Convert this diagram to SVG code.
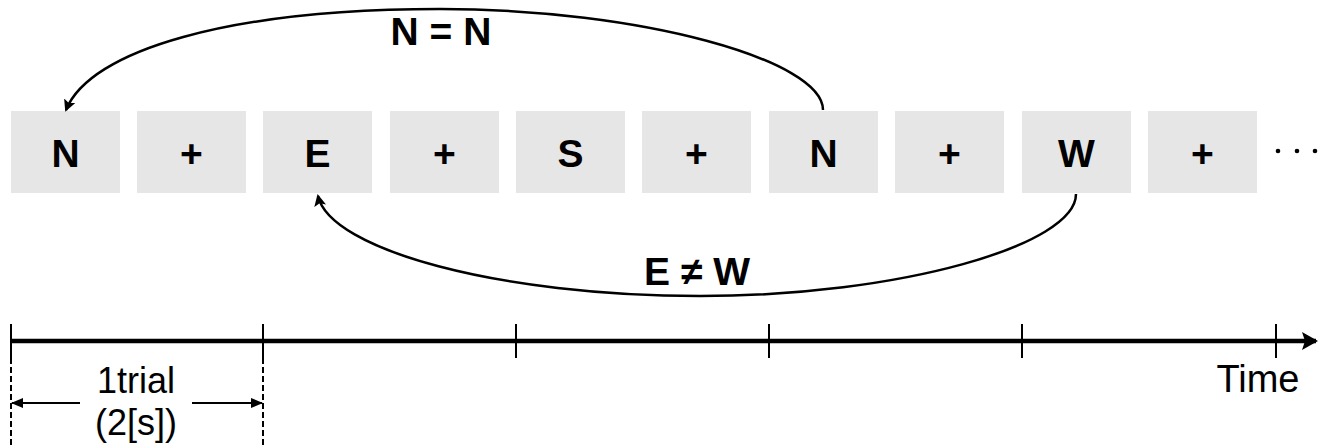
<svg xmlns="http://www.w3.org/2000/svg" width="1336" height="446" viewBox="0 0 1336 446">
<style>
.box{fill:#e6e6e6}
.bl{font-family:"Liberation Sans",Arial,sans-serif;font-weight:bold;font-size:39px;fill:#000;text-anchor:middle}
.rl{font-family:"Liberation Sans",Arial,sans-serif;font-size:36px;fill:#000;text-anchor:middle}
.curve{fill:none;stroke:#000;stroke-width:2.5}
.tick{stroke:#000;stroke-width:2}
.dash{stroke:#000;stroke-width:2;stroke-dasharray:6 3}
</style>
<defs>
<marker id="ah" markerWidth="12" markerHeight="12" refX="10" refY="6" orient="auto" markerUnits="userSpaceOnUse"><path d="M0,0 L12,6 L0,12 L2.5,6 Z" fill="#000"/></marker>
<marker id="ahs" markerWidth="12" markerHeight="10" refX="11" refY="5" orient="auto" markerUnits="userSpaceOnUse"><path d="M0,0 L12,5 L0,10 Z" fill="#000"/></marker>
<marker id="ahb" markerWidth="16" markerHeight="18" refX="14" refY="9" orient="auto" markerUnits="userSpaceOnUse"><path d="M0,0 L16,9 L0,18 L3,9 Z" fill="#000"/></marker>
</defs>
<g id="n1"><rect class="box" x="11" y="111" width="109" height="82"/><text class="bl" x="65.5" y="167">N</text></g>
<g id="n2"><rect class="box" x="137" y="111" width="109" height="82"/><text class="bl" x="191.5" y="167">+</text></g>
<g id="n3"><rect class="box" x="263" y="111" width="109" height="82"/><text class="bl" x="317.5" y="167">E</text></g>
<g id="n4"><rect class="box" x="390" y="111" width="109" height="82"/><text class="bl" x="444.5" y="167">+</text></g>
<g id="n5"><rect class="box" x="516" y="111" width="109" height="82"/><text class="bl" x="570.5" y="167">S</text></g>
<g id="n6"><rect class="box" x="642" y="111" width="109" height="82"/><text class="bl" x="696.5" y="167">+</text></g>
<g id="n7"><rect class="box" x="769" y="111" width="109" height="82"/><text class="bl" x="823.5" y="167">N</text></g>
<g id="n8"><rect class="box" x="895" y="111" width="109" height="82"/><text class="bl" x="949.5" y="167">+</text></g>
<g id="n9"><rect class="box" x="1022" y="111" width="109" height="82"/><text class="bl" x="1076.5" y="167">W</text></g>
<g id="n10"><rect class="box" x="1148" y="111" width="109" height="82"/><text class="bl" x="1202.5" y="167">+</text></g>
<g id="ellipsis"><circle cx="1278" cy="151" r="2.3"/><circle cx="1297" cy="151" r="2.3"/><circle cx="1315" cy="151" r="2.3"/></g>
<g id="connectors">
<path class="curve" d="M823,110 C823,60 640,9 440,9 C230,9 90,50 66,110" marker-end="url(#ah)"/>
<path class="curve" d="M1076,194 C1076,245 900,296 700,296 C500,296 330,250 318,196" marker-end="url(#ah)"/>
</g>
<text class="bl" x="441" y="45">N = N</text>
<text class="bl" x="697" y="285">E ≠ W</text>
<g id="axis">
<line x1="11" y1="341" x2="1316" y2="341" stroke="#000" stroke-width="4.5" marker-end="url(#ahb)"/>
<line class="tick" x1="11" y1="324" x2="11" y2="358"/>
<line class="tick" x1="263" y1="324" x2="263" y2="358"/>
<line class="tick" x1="516" y1="324" x2="516" y2="358"/>
<line class="tick" x1="769" y1="324" x2="769" y2="358"/>
<line class="tick" x1="1022" y1="324" x2="1022" y2="358"/>
<line class="tick" x1="1276" y1="324" x2="1276" y2="358"/>
<line class="dash" x1="11" y1="358" x2="11" y2="446"/>
<line class="dash" x1="263" y1="358" x2="263" y2="446"/>
<line class="tick" x1="80" y1="403" x2="12" y2="403" marker-end="url(#ahs)"/>
<line class="tick" x1="192" y1="403" x2="262" y2="403" marker-end="url(#ahs)"/>
<text class="rl" x="136" y="393">1trial</text>
<text class="rl" x="136" y="435">(2[s])</text>
<text class="rl" x="1258" y="392" style="font-size:38px">Time</text>
</g>
</svg>
